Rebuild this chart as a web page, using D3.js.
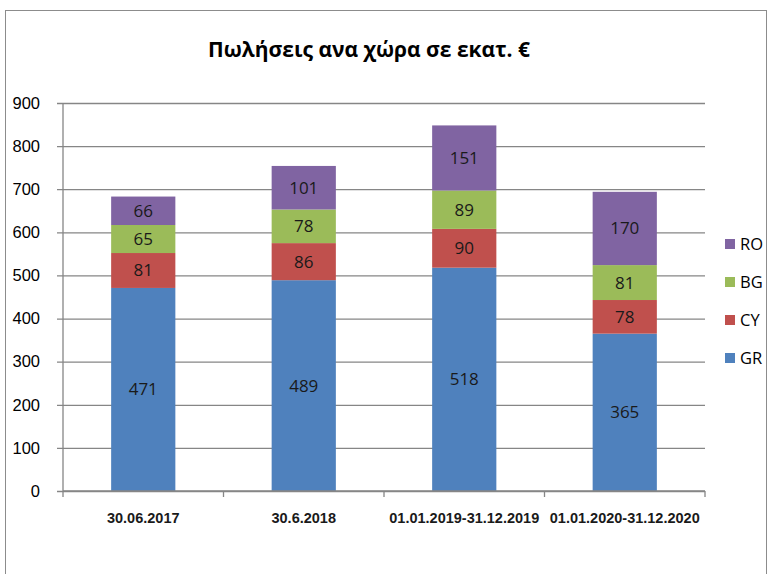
<!DOCTYPE html>
<html>
<head>
<meta charset="utf-8">
<script src="https://cdn.jsdelivr.net/npm/d3@7"></script>
<style>
  body { margin: 0; background: #fff; }
  svg { display: block; font-family: "Open Sans", "Liberation Sans", sans-serif; }
</style>
</head>
<body>
<svg id="chart" width="768" height="574"></svg>
<script>
// data
var categories = ["30.06.2017", "30.6.2018", "01.01.2019-31.12.2019", "01.01.2020-31.12.2020"];
var seriesNames = ["GR", "CY", "BG", "RO"];
var GR = [471, 489, 518, 365];
var CY = [81, 86, 90, 78];
var BG = [65, 78, 89, 81];
var RO = [66, 101, 151, 170];
var yTicks = [0, 100, 200, 300, 400, 500, 600, 700, 800, 900];
var colors = { GR: "#4f81bd", CY: "#c0504d", BG: "#9bbb59", RO: "#8064a2" };

var svg = d3.select("#chart");

// outer frame
svg.append("rect")
    .attr("x", 5.5).attr("y", 10.5)
    .attr("width", 761).attr("height", 580)
    .attr("fill", "none")
    .attr("stroke", "#8c8c8c");

svg.append("text")
    .attr("x", 369).attr("y", 57)
    .attr("text-anchor", "middle")
    .attr("font-size", "21px")
    .attr("font-weight", "bold")
    .attr("fill", "#000")
    .text("Πωλήσεις ανα χώρα σε εκατ. €");

var plotLeft = 63, plotRight = 705, plotTop = 103, plotBottom = 491;

var x = d3.scaleBand().domain(categories).range([plotLeft, plotRight]).paddingInner(0.6).paddingOuter(0.3);
var xb = d3.scaleBand().domain(categories).range([plotLeft, plotRight]);
var y = d3.scaleLinear().domain([0, 900]).range([plotBottom, plotTop]);

// gridlines + y axis
var yAxis = d3.axisLeft(y).tickValues(yTicks).tickSize(-(plotRight - plotLeft)).tickPadding(23);
var gy = svg.append("g").attr("transform", "translate(" + plotLeft + ",0)").call(yAxis);
gy.select(".domain").remove();
gy.selectAll(".tick line").attr("stroke", "#868686").attr("stroke-width", 1.3).attr("x1", -6);
gy.selectAll(".tick text").attr("font-size", "16.5px").attr("fill", "#000")
    .attr("font-family", "'Liberation Sans', sans-serif");

var stackData = categories.map(function (c, i) {
    return { cat: c, GR: GR[i], CY: CY[i], BG: BG[i], RO: RO[i] };
});
var stacked = d3.stack().keys(seriesNames)(stackData);

var layers = svg.selectAll(".layer").data(stacked).enter().append("g")
    .attr("class", "layer")
    .attr("fill", function (d) { return colors[d.key]; });

layers.selectAll("rect").data(function (d) { return d; }).enter().append("rect")
    .attr("x", function (d) { return x(d.data.cat); })
    .attr("width", x.bandwidth())
    .attr("y", function (d) { return y(d[1]); })
    .attr("height", function (d) { return y(d[0]) - y(d[1]); });

layers.selectAll("text").data(function (d) { return d; }).enter().append("text")
    .attr("x", function (d) { return x(d.data.cat) + x.bandwidth() / 2; })
    .attr("y", function (d) { return (y(d[0]) + y(d[1])) / 2; })
    .attr("dy", "0.35em")
    .attr("text-anchor", "middle")
    .attr("font-size", "17px")
    .attr("fill", "#1a1a1a")
    .text(function (d) { return d[1] - d[0]; });

// x axis with ticks at category boundaries
svg.append("line")
    .attr("x1", plotLeft).attr("x2", plotRight)
    .attr("y1", plotBottom).attr("y2", plotBottom)
    .attr("stroke", "#868686").attr("stroke-width", 1.3);
svg.append("line")
    .attr("x1", plotLeft).attr("x2", plotLeft)
    .attr("y1", plotTop).attr("y2", plotBottom)
    .attr("stroke", "#868686").attr("stroke-width", 1.3);

var bounds = categories.map(function (c) { return xb(c); }).concat([plotRight]);
svg.selectAll(".xtick").data(bounds).enter().append("line")
    .attr("x1", function (d) { return d; }).attr("x2", function (d) { return d; })
    .attr("y1", plotBottom).attr("y2", plotBottom + 6)
    .attr("stroke", "#868686").attr("stroke-width", 1.3);

svg.selectAll(".xlabel").data(categories).enter().append("text")
    .attr("x", function (d) { return xb(d) + xb.bandwidth() / 2; })
    .attr("y", 523)
    .attr("text-anchor", "middle")
    .attr("font-size", "14.5px")
    .attr("font-weight", "bold")
    .attr("font-family", "'Liberation Sans', sans-serif")
    .attr("fill", "#1a1a1a")
    .text(function (d) { return d; });

// legend, top to bottom RO, BG, CY, GR
var legendNames = seriesNames.slice().reverse();
var lg = svg.selectAll(".legend").data(legendNames).enter().append("g")
    .attr("transform", function (d, i) { return "translate(725," + (244 + i * 38) + ")"; });
lg.append("rect")
    .attr("x", 0).attr("y", -5).attr("width", 10).attr("height", 10)
    .attr("fill", function (d) { return colors[d]; });
lg.append("text")
    .attr("x", 15).attr("dy", "0.36em")
    .attr("font-size", "16.5px")
    .attr("fill", "#000")
    .text(function (d) { return d; });
</script>
</body>
</html>
